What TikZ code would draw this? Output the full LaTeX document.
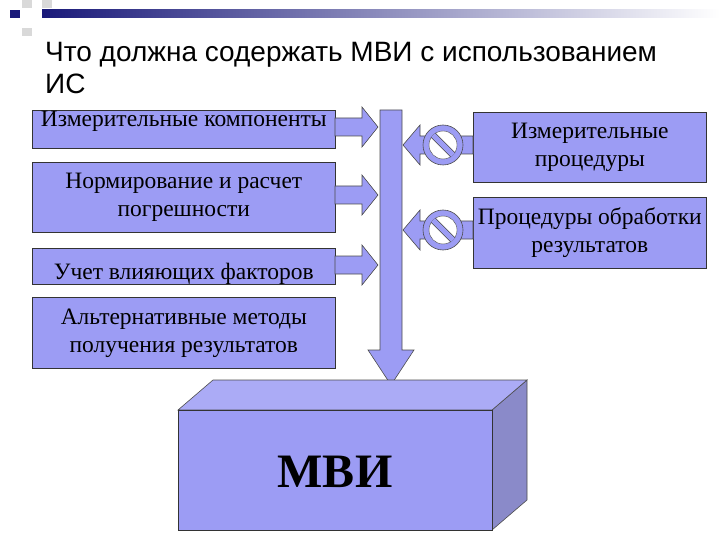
\documentclass[tikz,border=0pt]{standalone}
\usepackage{fontspec}
\setmainfont{Liberation Serif}
\newfontfamily\sansf{Liberation Sans}
\definecolor{boxc}{HTML}{9C9CF4}
\definecolor{navy}{HTML}{1A1A7A}
\begin{document}
\begin{tikzpicture}[x=1pt,y=-1pt,
  bx/.style={draw=black!80,fill=boxc,line width=0.6pt,align=center,font=\fontsize{23.5}{28}\selectfont},
  arr/.style={draw=black!70,fill=boxc,line width=0.6pt}]
\useasboundingbox (0,0) rectangle (720,540);
% header decoration
\fill[black!15] (22,0) rectangle (32,8);
\fill[black!15] (42,0) rectangle (52,8);
\fill[black!15] (22,28) rectangle (32,36);
\fill[navy] (10,10) rectangle (20,18);
\shade[left color=navy,right color=white] (42,10) rectangle (720,18);
\node[anchor=north west,font=\sansf\fontsize{28}{32}\selectfont,align=left,inner sep=0] (title) at (45,42) {Что должна содержать МВИ с использованием\\ИС};
% left boxes
\node[bx,anchor=north west,minimum width=303,minimum height=38,inner sep=0] (b1) at (32,110) {};
\node[anchor=north,font=\fontsize{23.5}{28}\selectfont,inner sep=1] at (b1.north) {Измерительные компоненты};
\node[bx,anchor=north west,minimum width=303,minimum height=70] (b2) at (32,162) {Нормирование и расчет\\погрешности};
\node[bx,anchor=north west,minimum width=303,minimum height=36] (b3) at (32,248) {};
\node[anchor=south,font=\fontsize{23.5}{28}\selectfont,inner sep=1] at ([yshift=-1]b3.south) {Учет влияющих факторов};
\node[bx,anchor=north west,minimum width=303,minimum height=71] (b4) at (32,297) {Альтернативные методы\\получения результатов};
% right boxes
\node[bx,anchor=north west,minimum width=233,minimum height=70] (r1) at (473,112) {Измерительные\\процедуры};
\node[bx,anchor=north west,minimum width=233,minimum height=71,inner xsep=0] (r2) at (473,197) {Процедуры обработки\\результатов};
% vertical bar arrow
\draw[arr] (380,110) -- (402,110) -- (402,350) -- (414,350) -- (391,385) -- (368,350) -- (380,350) -- cycle;
% right-pointing arrows
\foreach \y in {127,195,265}{
  \draw[arr] (335,\y-9) -- (362,\y-9) -- (362,\y-20) -- (378,\y) -- (362,\y+20) -- (362,\y+9) -- (335,\y+9) -- cycle;
}
% left arrows with prohibited signs
\foreach \y in {145,230}{
  \draw[arr] (473,\y-9) -- (420,\y-9) -- (420,\y-20) -- (403,\y) -- (420,\y+20) -- (420,\y+9) -- (473,\y+9) -- cycle;
  \draw[arr] (443,\y) circle (20);
  \fill[white,draw=black!70] (443,\y) circle (14);
  \draw[black!70,line width=6.5pt] (443-10,\y-10) -- (443+10,\y+10);
  \draw[boxc,line width=5pt] (443-10,\y-10) -- (443+10,\y+10);
}
% 3D box
\draw[arr,fill=boxc!80!black!90] (492,410) -- (527,380) -- (527,500) -- (492,530) -- cycle;
\draw[arr,fill=boxc!85!white] (178,410) -- (213,380) -- (527,380) -- (492,410) -- cycle;
\node[bx,anchor=north west,minimum width=314,minimum height=120] (mvi) at (178,410) {};
\node[font=\bfseries\fontsize{48}{50}\selectfont] at (335,472) {МВИ};
\end{tikzpicture}
\end{document}
